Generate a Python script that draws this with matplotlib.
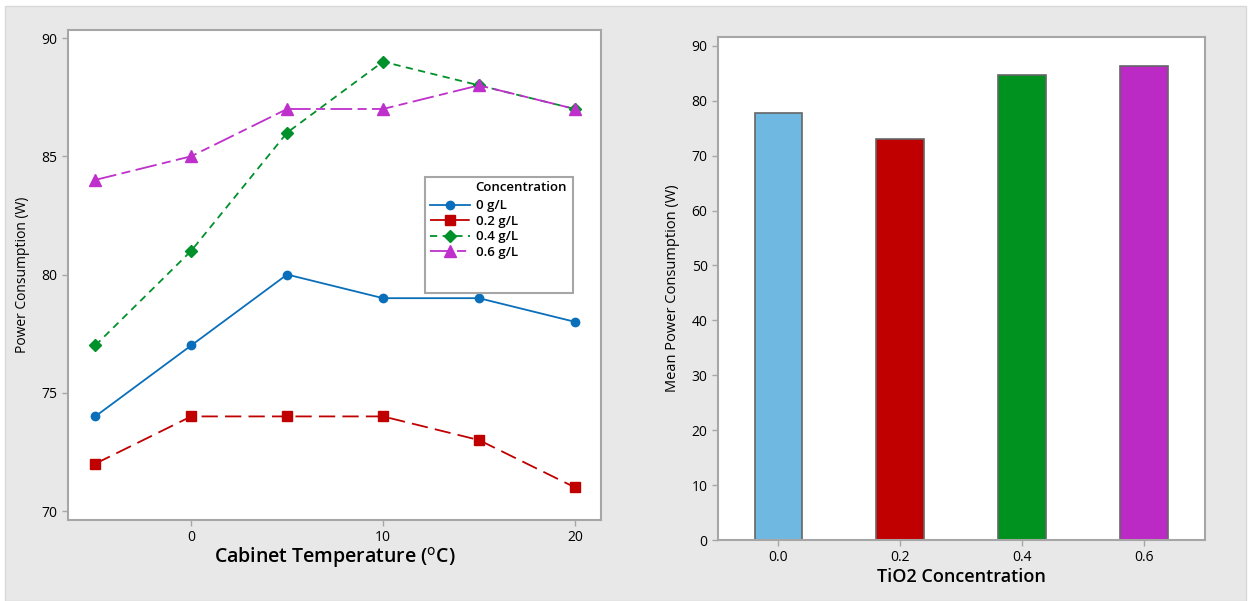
import matplotlib.pyplot as plt
from matplotlib.patches import Rectangle

# line chart data
temps = [-5, 0, 5, 10, 15, 20]
conc_labels = ["0 g/L", "0.2 g/L", "0.4 g/L", "0.6 g/L"]
power_0 = [74, 77, 80, 79, 79, 78]
power_02 = [72, 74, 74, 74, 73, 71]
power_04 = [77, 81, 86, 89, 88, 87]
power_06 = [84, 85, 87, 87, 88, 87]

# bar chart data
tio2 = [0.0, 0.2, 0.4, 0.6]
tio2_labels = ["0.0", "0.2", "0.4", "0.6"]
mean_power = [77.8, 73.0, 84.7, 86.3]

line_colors = ["#0a6fba", "#c00000", "#00912a", "#bf2fcc"]
bar_colors = ["#6fb8e1", "#c00000", "#00921f", "#bb2ac4"]
markers = ["o", "s", "D", "^"]
styles = ["-", (0, (9, 4)), (0, (4, 3)), (0, (12, 3, 5, 3))]
msizes = [6, 7, 6, 8]

plt.rcParams['font.family'] = ['Open Sans', 'DejaVu Sans']

fig = plt.figure(figsize=(12.52, 6.01), dpi=100, facecolor="white")
fig.patches.append(Rectangle((5 / 1252, 0), 1241 / 1252, 595 / 601, transform=fig.transFigure,
                             facecolor="#e8e8e8", edgecolor="#d8d8d8", lw=1, zorder=-10))

frame_col = "#a6a6a6"

# left: line plot
ax1 = fig.add_axes([68 / 1252, 1 - 520 / 601, 533 / 1252, 490 / 601])
series = [power_0, power_02, power_04, power_06]
for vals, lab, c, m, ls, ms in zip(series, conc_labels, line_colors, markers, styles, msizes):
    ax1.plot(temps, vals, color=c, marker=m, linestyle=ls, lw=1.3, markersize=ms, label=lab)
ax1.set_xlim(-6.42, 21.36)
ax1.set_ylim(69.62, 90.34)
ax1.set_xticks([0, 10, 20])
ax1.set_yticks([70, 75, 80, 85, 90])
ax1.set_xlabel("Cabinet Temperature ($^{\\mathrm{o}}$C)", fontsize=14, fontweight="semibold", labelpad=0)
ax1.set_ylabel("Power Consumption (W)", fontsize=10, labelpad=8)

# legend: box drawn separately so it can have the empty space at the bottom
ax1.add_patch(Rectangle((0.670, 0.463), 0.277, 0.237, transform=ax1.transAxes,
                        facecolor="white", edgecolor=frame_col, lw=1.5, zorder=5))
ax1.text(0.765, 0.678, "Concentration", transform=ax1.transAxes, fontsize=9.5,
         fontweight="semibold", va="center", ha="left", zorder=6)
leg = ax1.legend(loc="upper left", bbox_to_anchor=(0.662, 0.673), frameon=False,
                 handlelength=3.0, handletextpad=0.5, labelspacing=0.18,
                 borderpad=0.2, prop={"weight": "semibold", "size": 9.5})
leg.set_zorder(7)

# right: bar chart
ax2 = fig.add_axes([718 / 1252, 1 - 540 / 601, 487 / 1252, 503 / 601])
ax2.bar(tio2, mean_power, width=0.078, color=bar_colors, edgecolor="#666666", linewidth=1.2)
ax2.set_xlim(-0.099, 0.70)
ax2.set_ylim(0, 91.6)
ax2.set_xticks(tio2)
ax2.set_xticklabels(tio2_labels)
ax2.set_yticks(range(0, 91, 10))
ax2.set_xlabel("TiO2 Concentration", fontsize=13, fontweight="semibold", labelpad=2)
ax2.set_ylabel("Mean Power Consumption (W)", fontsize=10.5, labelpad=8)

for ax in (ax1, ax2):
    ax.set_facecolor("white")
    for sp in ax.spines.values():
        sp.set_color(frame_col)
        sp.set_linewidth(1.5)
    ax.tick_params(axis="both", colors=frame_col, labelcolor="black", labelsize=10, length=4, width=1)

fig.savefig("out.png", dpi=100, facecolor="white")
